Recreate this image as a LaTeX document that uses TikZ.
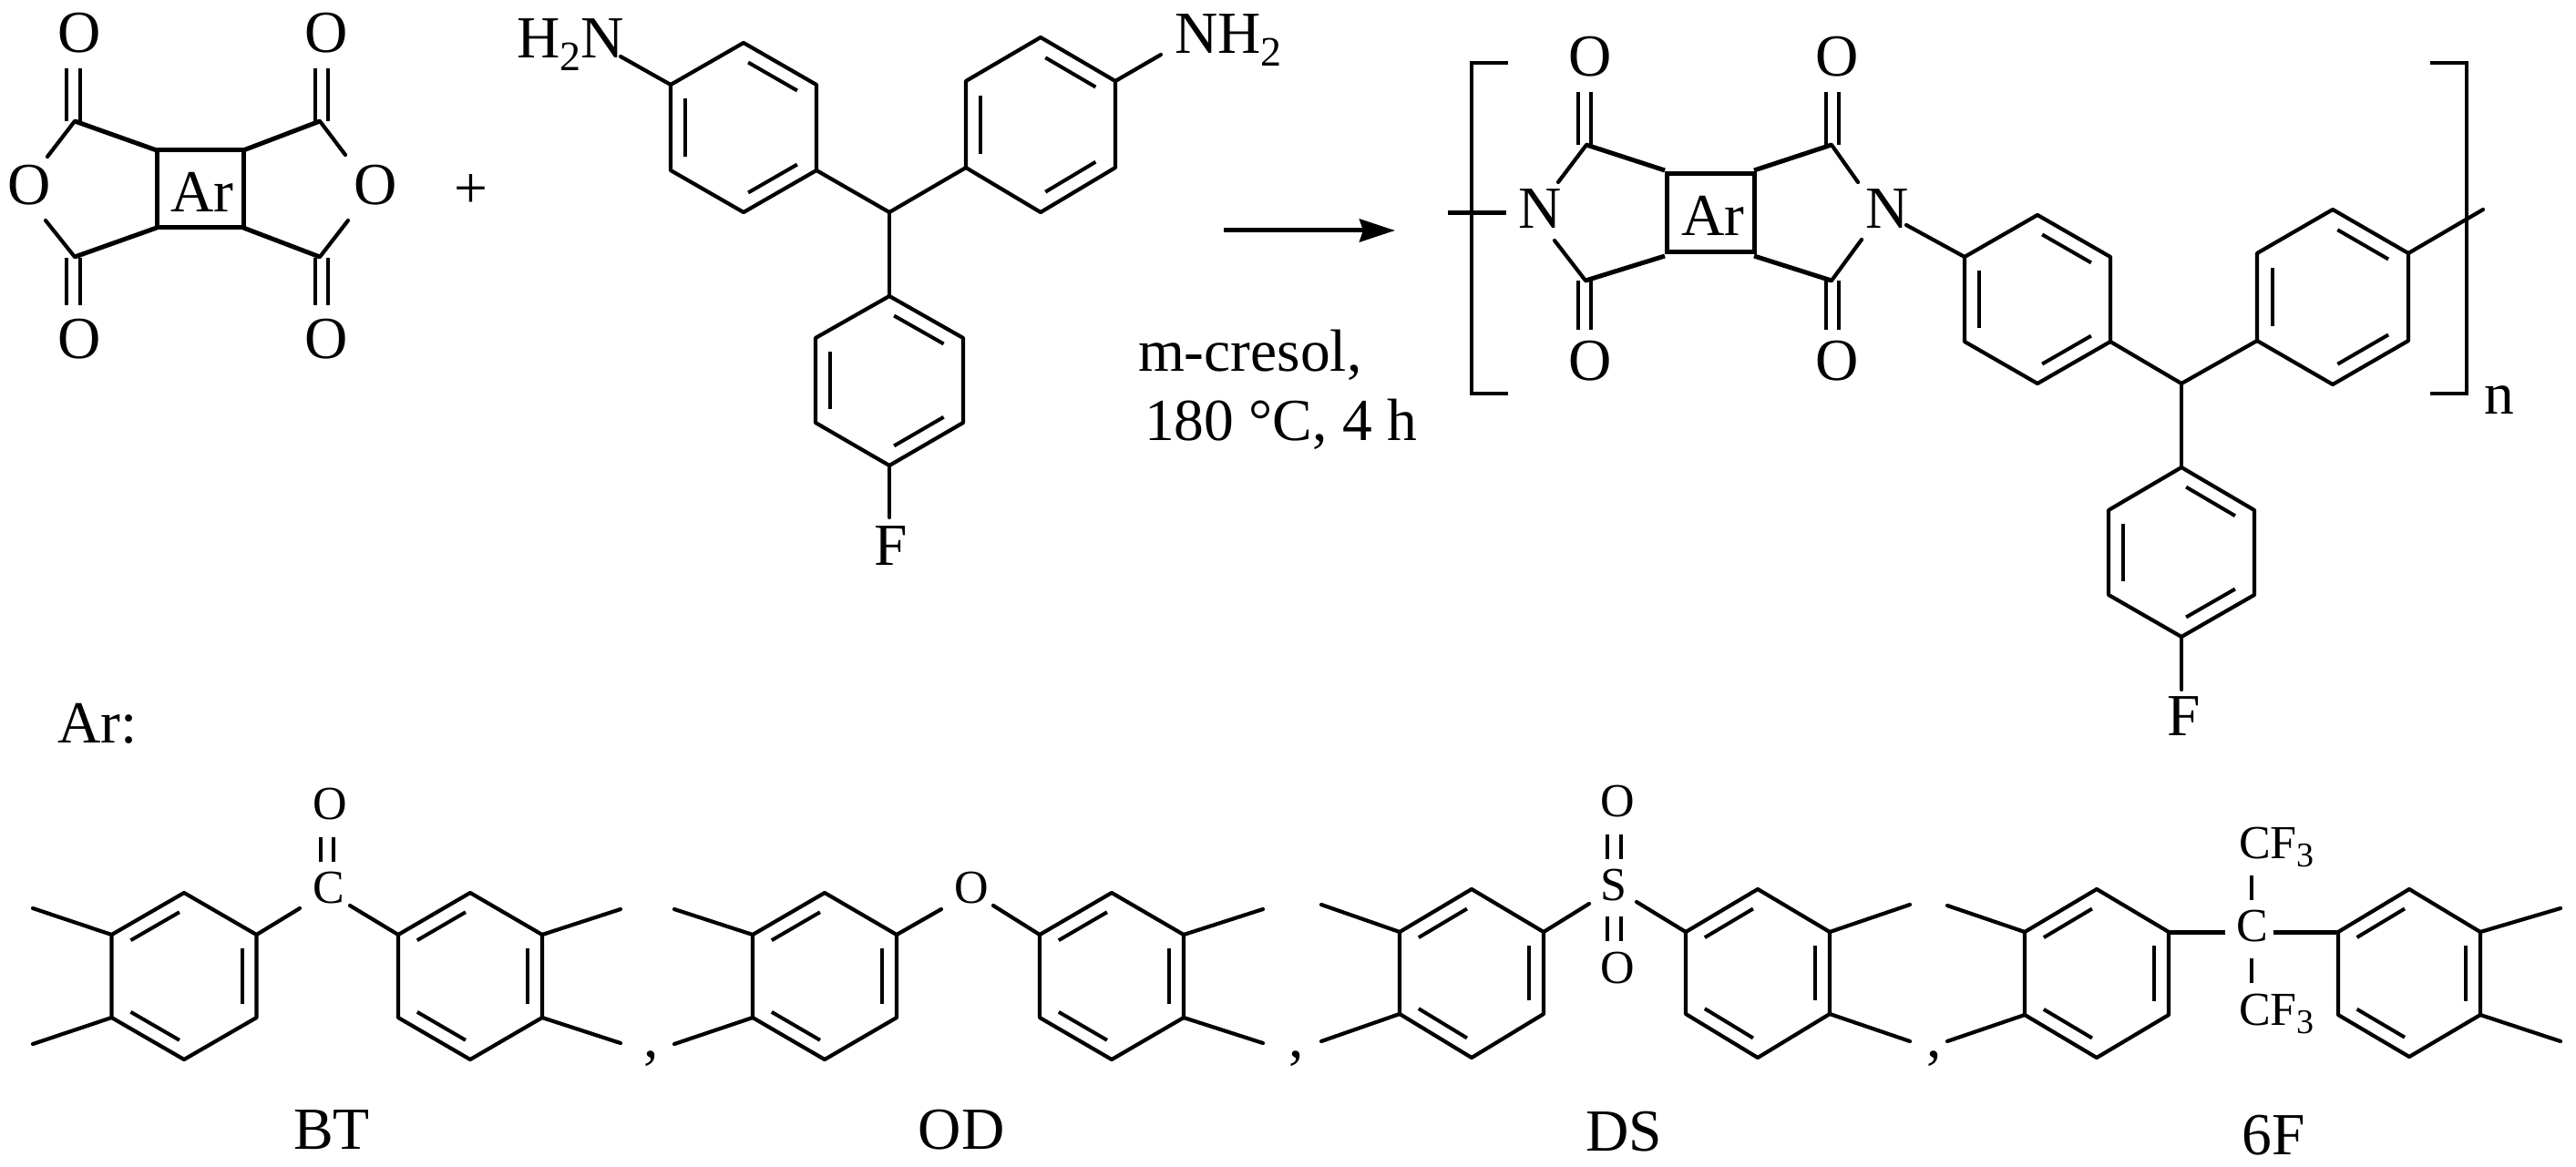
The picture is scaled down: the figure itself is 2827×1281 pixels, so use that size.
\documentclass[tikz,border=0pt]{standalone}
\usepackage{fontspec}
\setmainfont{Liberation Serif}
\usetikzlibrary{calc,arrows.meta}
\newcommand{\bigsz}{\fontsize{65.5}{76}\selectfont}
\newcommand{\smallsz}{\fontsize{52}{60}\selectfont}
\newcommand{\lowtwo}{\raisebox{-14pt}{\fontsize{46}{46}\selectfont 2}}
\newcommand{\lowthree}{\raisebox{-9pt}{\fontsize{38}{38}\selectfont 3}}
% name, cx, half width, top, upper, lower, bottom
\newcommand{\hexring}[7]{%
  \coordinate (#1-t) at (#2,#4);
  \coordinate (#1-b) at (#2,#7);
  \coordinate (#1-ul) at ($(#2,#5)+(-#3,0)$);
  \coordinate (#1-ur) at ($(#2,#5)+(#3,0)$);
  \coordinate (#1-ll) at ($(#2,#6)+(-#3,0)$);
  \coordinate (#1-lr) at ($(#2,#6)+(#3,0)$);
  \coordinate (#1-c) at ($(#1-t)!.5!(#1-b)$);
  \draw[bond] (#1-t)--(#1-ur)--(#1-lr)--(#1-b)--(#1-ll)--(#1-ul)--cycle;
}
\newcommand{\dbl}[3]{%
  \draw[inner] ($($(#1-#2)!.2!(#1-c)$)!.08!($(#1-#3)!.2!(#1-c)$)$) -- ($($(#1-#3)!.2!(#1-c)$)!.08!($(#1-#2)!.2!(#1-c)$)$);
}
\tikzset{
  bond/.style={line width=4.2pt,line join=round,line cap=round,black},
  heavy/.style={line width=5pt,line join=miter,black},
  inner/.style={line width=4pt,black},
  pair/.style={line width=4.6pt,black},
  lab/.style={inner sep=0pt,outer sep=0pt,anchor=base,font=\bigsz,text=black},
  slab/.style={inner sep=0pt,outer sep=0pt,anchor=base,font=\smallsz,text=black},
  llab/.style={lab,anchor=base west},
}
\begin{document}
\begin{tikzpicture}[x=1pt,y=-1pt]
\useasboundingbox (0,0) rectangle (2827,1281);
\fill[white] (0,0) rectangle (2827,1281);

%% ---- anhydride
\coordinate (s1) at (172,165); \coordinate (s2) at (267,165);
\coordinate (s3) at (267,250); \coordinate (s4) at (172,250);
\draw[heavy] (s1)--(s2)--(s3)--(s4)--cycle;
\coordinate (c1) at (82,133); \coordinate (c2) at (351,133);
\coordinate (c3) at (82,282); \coordinate (c4) at (351,282);
\draw[heavy] (c1)--(s1); \draw[heavy] (c2)--(s2);
\draw[heavy] (c3)--(s4); \draw[heavy] (c4)--(s3);
\coordinate (e1) at (52,172); \coordinate (e2) at (379,170);
\coordinate (e3) at (50,242); \coordinate (e4) at (382,242);
\draw[bond] (c1)--(e1); \draw[bond] (c2)--(e2);
\draw[bond] (c3)--(e3); \draw[bond] (c4)--(e4);
\foreach \a/\x/\y/\z in {p1/73/75/133,p2/88/75/133,p3/346/75/133,p4/360/75/133,p5/73/283/335,p6/88/283/335,p7/346/283/335,p8/360/283/335}{
  \coordinate (\a u) at (\x,\y); \coordinate (\a d) at (\x,\z);
  \draw[pair] (\a u)--(\a d);
}
\node[lab] (oa1) at (87,58) {O};
\node[lab] (oa2) at (358,58) {O};
\node[lab] (oa3) at (87,393) {O};
\node[lab] (oa4) at (358,393) {O};
\node[lab] (oa5) at (32,225) {O};
\node[lab] (oa6) at (412,225) {O};
\node[lab] (ara) at (222,233) {Ar};
\node[lab] (plus) at (517,229) {+};

%% ---- diamine
\hexring{ra}{816}{80}{47}{93}{187}{233}
\dbl{ra}{t}{ur}\dbl{ra}{lr}{b}\dbl{ra}{ll}{ul}
\hexring{rb}{1142}{82}{41}{89}{184}{233}
\dbl{rb}{t}{ur}\dbl{rb}{lr}{b}\dbl{rb}{ll}{ul}
\hexring{rc}{976}{81}{325}{371}{464}{511}
\dbl{rc}{t}{ur}\dbl{rc}{lr}{b}\dbl{rc}{ll}{ul}
\coordinate (cm) at (976,233);
\draw[bond] (cm)--(ra-lr); \draw[bond] (cm)--(rb-ll); \draw[bond] (cm)--(rc-t);
\node[llab] (h2n) at (567,64) {H\lowtwo N};
\node[llab] (nh2) at (1289,59) {NH\lowtwo};
\coordinate (h2ne) at (681,62); \coordinate (nh2e) at (1274,60);
\draw[bond] (h2ne)--(ra-ul); \draw[bond] (nh2e)--(rb-ur);
\node[lab] (fa) at (978,620) {F};
\coordinate (fae) at (976,568);
\draw[bond] (rc-b)--(fae);

%% ---- arrow
\coordinate (ar1) at (1343,253); \coordinate (ar2) at (1531,253);
\draw[line width=5pt,-{Stealth[length=39pt,width=25pt,inset=4pt]}] (ar1)--(ar2);
\node[llab] (cond1) at (1249,407) {m-cresol,};
\node[llab] (cond2) at (1256,483) {180 °C, 4 h};

%% ---- polymer
\coordinate (bl1) at (1655,69); \coordinate (bl2) at (1615,69); \coordinate (bl3) at (1615,432); \coordinate (bl4) at (1655,432);
\draw[bond,line cap=butt,line join=miter] (bl1)--(bl2)--(bl3)--(bl4);
\coordinate (br1) at (2667,69); \coordinate (br2) at (2707,69); \coordinate (br3) at (2707,432); \coordinate (br4) at (2667,432);
\draw[bond,line cap=butt,line join=miter] (br1)--(br2)--(br3)--(br4);
\coordinate (q1) at (1829,191); \coordinate (q2) at (1925,191);
\coordinate (q3) at (1925,277); \coordinate (q4) at (1829,277);
\draw[heavy] (q1)--(q2)--(q3)--(q4)--cycle;
\coordinate (d1) at (1741,159); \coordinate (d2) at (2010,159);
\coordinate (d3) at (1740,308); \coordinate (d4) at (2010,308);
\coordinate (q1b) at (1827,187); \coordinate (q2b) at (1925,187);
\coordinate (q3b) at (1925,281); \coordinate (q4b) at (1827,281);
\draw[heavy] (d1)--(q1b); \draw[heavy] (d2)--(q2b);
\draw[heavy] (d3)--(q4b); \draw[heavy] (d4)--(q3b);
\coordinate (f1) at (1710,200); \coordinate (f2) at (2039,200);
\coordinate (f3) at (1706,264); \coordinate (f4) at (2043,263);
\draw[bond] (d1)--(f1); \draw[bond] (d2)--(f2);
\draw[bond] (d3)--(f3); \draw[bond] (d4)--(f4);
\foreach \a/\x/\y/\z in {k1/1732/101/159,k2/1746/101/159,k3/2004/101/159,k4/2018/101/159,k5/1732/308/362,k6/1746/308/362,k7/2004/308/362,k8/2018/308/362}{
  \coordinate (\a u) at (\x,\y); \coordinate (\a d) at (\x,\z);
  \draw[pair] (\a u)--(\a d);
}
\node[lab] (ob1) at (1745,84) {O};
\node[lab] (ob2) at (2016,84) {O};
\node[lab] (ob3) at (1745,417) {O};
\node[lab] (ob4) at (2016,417) {O};
\node[lab] (n1) at (1690,251) {N};
\node[lab] (n2) at (2071,251) {N};
\node[lab] (arb) at (1880,259) {Ar};
\coordinate (st1) at (1589,234); \coordinate (st2) at (1653,234);
\draw[heavy] (st1)--(st2);
\hexring{rd}{2236}{80}{236}{282}{375}{421}
\dbl{rd}{t}{ur}\dbl{rd}{lr}{b}\dbl{rd}{ll}{ul}
\hexring{re}{2560}{83}{230}{278}{374}{422}
\dbl{re}{t}{ur}\dbl{re}{lr}{b}\dbl{re}{ll}{ul}
\hexring{rf}{2394}{80}{513}{560}{653}{699}
\dbl{rf}{t}{ur}\dbl{rf}{lr}{b}\dbl{rf}{ll}{ul}
\coordinate (n2e) at (2092,247);
\draw[bond] (n2e)--(rd-ul);
\coordinate (cp) at (2394,421);
\draw[bond] (cp)--(rd-lr); \draw[bond] (cp)--(re-ll); \draw[bond] (cp)--(rf-t);
\coordinate (tail) at (2725,230);
\draw[bond] (re-ur)--(tail);
\coordinate (fbe) at (2394,757);
\draw[bond] (rf-b)--(fbe);
\node[lab] (fb) at (2397,807) {F};
\node[lab] (nn) at (2743,454) {n};

%% ---- Ar:
\node[llab] (arl) at (63,815) {Ar:};

%% ---- BT
\hexring{g1}{202}{79.5}{980}{1026}{1117}{1163}
\dbl{g1}{t}{ul}\dbl{g1}{ur}{lr}\dbl{g1}{ll}{b}
\hexring{g2}{516}{79}{980}{1026}{1117}{1163}
\dbl{g2}{t}{ul}\dbl{g2}{ur}{lr}\dbl{g2}{ll}{b}
\coordinate (g1a) at (36,997); \coordinate (g1b) at (36,1146);
\coordinate (g2a) at (681,998); \coordinate (g2b) at (681,1145);
\draw[bond] (g1-ul)--(g1a); \draw[bond] (g1-ll)--(g1b);
\draw[bond] (g2-ur)--(g2a); \draw[bond] (g2-lr)--(g2b);
\coordinate (g1e) at (329,997); \coordinate (g2e) at (384,994);
\draw[bond] (g1-ur)--(g1e); \draw[bond] (g2-ul)--(g2e);
\node[slab] (btc) at (361,991) {C};
\node[slab] (bto) at (362,899) {O};
\foreach \a/\x in {b1/352,b2/366}{
  \coordinate (\a u) at (\x,919); \coordinate (\a d) at (\x,946);
  \draw[pair] (\a u)--(\a d);
}
\node[lab] (bt) at (364,1261) {BT};
\node[lab] (cm1) at (715,1160) {,};

%% ---- OD
\hexring{g3}{905}{79}{980}{1026}{1117}{1163}
\dbl{g3}{t}{ul}\dbl{g3}{ur}{lr}\dbl{g3}{ll}{b}
\hexring{g4}{1220}{79}{980}{1026}{1117}{1163}
\dbl{g4}{t}{ul}\dbl{g4}{ur}{lr}\dbl{g4}{ll}{b}
\coordinate (g3a) at (740,998); \coordinate (g3b) at (740,1146);
\coordinate (g4a) at (1386,998); \coordinate (g4b) at (1386,1145);
\draw[bond] (g3-ul)--(g3a); \draw[bond] (g3-ll)--(g3b);
\draw[bond] (g4-ur)--(g4a); \draw[bond] (g4-lr)--(g4b);
\coordinate (g3e) at (1033,998); \coordinate (g4e) at (1090,994);
\draw[bond] (g3-ur)--(g3e); \draw[bond] (g4-ul)--(g4e);
\node[slab] (odo) at (1066,991) {O};
\node[lab] (od) at (1055,1261) {OD};
\node[lab] (cm2) at (1423,1160) {,};

%% ---- DS
\hexring{g5}{1615}{79}{976}{1023}{1113}{1161}
\dbl{g5}{t}{ul}\dbl{g5}{ur}{lr}\dbl{g5}{ll}{b}
\hexring{g6}{1929}{79}{976}{1023}{1113}{1161}
\dbl{g6}{t}{ul}\dbl{g6}{ur}{lr}\dbl{g6}{ll}{b}
\coordinate (g5a) at (1450,993); \coordinate (g5b) at (1450,1143);
\coordinate (g6a) at (2096,993); \coordinate (g6b) at (2096,1143);
\draw[bond] (g5-ul)--(g5a); \draw[bond] (g5-ll)--(g5b);
\draw[bond] (g6-ur)--(g6a); \draw[bond] (g6-lr)--(g6b);
\coordinate (g5e) at (1744,992); \coordinate (g6e) at (1796,990);
\draw[bond] (g5-ur)--(g5e); \draw[bond] (g6-ul)--(g6e);
\node[slab] (dss) at (1771,988) {S};
\node[slab] (dso1) at (1775,896) {O};
\node[slab] (dso2) at (1775,1079) {O};
\foreach \a/\x/\y/\z in {d1x/1764/916/943,d2x/1779/916/943,d3x/1764/1006/1033,d4x/1779/1006/1033}{
  \coordinate (\a u) at (\x,\y); \coordinate (\a d) at (\x,\z);
  \draw[pair] (\a u)--(\a d);
}
\node[lab] (ds) at (1782,1263) {DS};
\node[lab] (cm3) at (2123,1160) {,};

%% ---- 6F
\hexring{g7}{2301}{79}{976}{1023}{1114}{1161}
\dbl{g7}{t}{ul}\dbl{g7}{ur}{lr}\dbl{g7}{ll}{b}
\hexring{g8}{2644}{78}{976}{1023}{1114}{1160}
\dbl{g8}{t}{ul}\dbl{g8}{ur}{lr}\dbl{g8}{ll}{b}
\coordinate (g7a) at (2137,994); \coordinate (g7b) at (2137,1143);
\coordinate (g8a) at (2810,997); \coordinate (g8b) at (2810,1143);
\draw[bond] (g7-ul)--(g7a); \draw[bond] (g7-ll)--(g7b);
\draw[bond] (g8-ur)--(g8a); \draw[bond] (g8-lr)--(g8b);
\coordinate (g7e) at (2442,1023); \coordinate (g8e) at (2495,1023);
\draw[heavy] (g7-ur)--(g7e); \draw[heavy] (g8-ul)--(g8e);
\node[slab] (fc) at (2472,1033) {C};
\node[slab,anchor=base west] (cf1) at (2457,942) {CF\lowthree};
\node[slab,anchor=base west] (cf2) at (2457,1125) {CF\lowthree};
\foreach \a/\y/\z in {v1/961/988,v2/1052/1079}{
  \coordinate (\a u) at (2471,\y); \coordinate (\a d) at (2471,\z);
  \draw[pair] (\a u)--(\a d);
}
\node[lab] (sf) at (2495,1267) {6F};
\end{tikzpicture}
\end{document}
